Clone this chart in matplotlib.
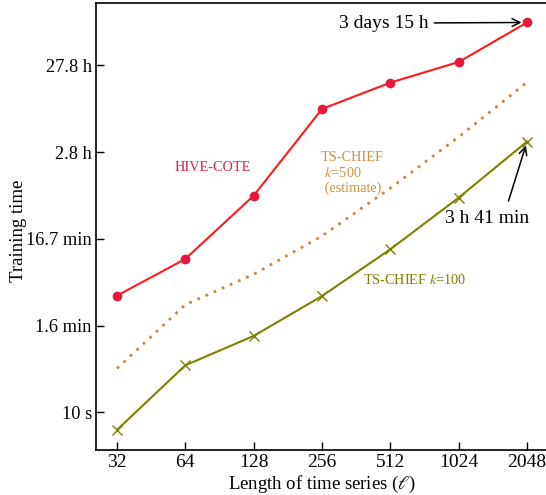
import numpy as np
import matplotlib
matplotlib.use("Agg")
import matplotlib.pyplot as plt

plt.rcParams['font.family'] = ['Liberation Serif', 'DejaVu Serif']
plt.rcParams['mathtext.fontset'] = 'stix'

# series lengths
lengths = [32, 64, 128, 256, 512, 1024, 2048]
# training times in seconds
hive_cote = [221, 586, 3150, 31500, 63400, 109700, 313200]
chief_100 = [6.25, 34.8, 75.9, 219, 759, 2990, 13260]
chief_500 = [32, 174, 390, 1080, 3850, 15000, 64000]

ytick_vals = [10, 100, 1000, 10000, 100000]
ytick_labels = ["10 s", "1.6 min", "16.7 min", "2.8 h", "27.8 h"]

fig = plt.figure(figsize=(5.46, 4.95), dpi=100)
ax = fig.add_axes([0.1758, 0.0909, 0.828, 0.903])

ax.plot(lengths, hive_cote, color='#ff1a1a', lw=1.5, marker='o', ms=6,
        mfc='#e8183c', mec='#e8183c')
ax.plot(lengths, chief_500, color='#cd853f', lw=2, ls=(0, (1, 2.2)))
ax.plot(lengths, chief_100, color='#808000', lw=1.5, marker='x', ms=7, mew=1)

ax.set_xscale('log', base=2)
ax.set_yscale('log')
ax.set_xlim(32 / 2 ** 0.307, 2048 * 2 ** 0.307)
ax.set_ylim(3.67, 525000)
ax.set_xticks(lengths)
ax.set_xticklabels([str(v) for v in lengths])
ax.set_yticks(ytick_vals)
ax.set_yticklabels(ytick_labels)
ax.minorticks_off()
ax.tick_params(direction='in', length=6, width=1)
ax.tick_params(axis='x', labelsize=14, pad=3)
ax.tick_params(axis='y', labelsize=13.2, pad=3)
ax.spines['right'].set_visible(False)
for s in ax.spines.values():
    s.set_linewidth(1.2)

ax.set_xlabel(r"Length of time series ($\ell$)", fontsize=13.5)
ax.set_ylabel("Training time", fontsize=13.5)
ax.xaxis.set_label_coords(0.5, -0.053)
ax.yaxis.set_label_coords(-0.152, 0.49)

ax.text(0.258, 0.633, "HIVE-COTE", transform=ax.transAxes, color='#e0204a',
        fontsize=10.3, ha='center', va='center')
ax.text(0.497, 0.620, "TS-CHIEF\n $k$=500\n (estimate)", transform=ax.transAxes,
        color='#d4903c', fontsize=10.3, ha='left', va='center', linespacing=1.2)
ax.text(0.591, 0.381, "TS-CHIEF $k$=100", transform=ax.transAxes,
        color='#808000', fontsize=10.3, ha='left', va='center')

ax.annotate("3 days 15 h", xy=(2048, hive_cote[-1]), xytext=(0.637, 0.955),
            textcoords='axes fraction', fontsize=14, ha='center', va='center',
            arrowprops=dict(arrowstyle='->', color='black', lw=1.1,
                            shrinkA=2, shrinkB=4))
ax.annotate("3 h 41 min", xy=(2048, chief_100[-1]), xytext=(0.865, 0.517),
            textcoords='axes fraction', fontsize=14, ha='center', va='center',
            arrowprops=dict(arrowstyle='->', color='black', lw=1.1,
                            shrinkA=5, shrinkB=3,
                            relpos=(0.72, 1.0)))

fig.savefig("out.png", dpi=100)
